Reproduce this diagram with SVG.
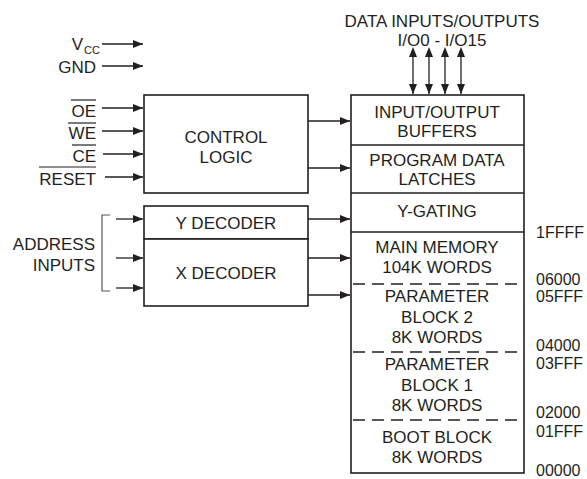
<svg xmlns="http://www.w3.org/2000/svg" width="587" height="479" viewBox="0 0 587 479">
<style>
  text { font-family: "Liberation Sans", Arial, sans-serif; font-size: 17px; fill: #231f20; }
  .num { font-size: 16px; }
  .sub { font-size: 11px; }
  .c { text-anchor: middle; }
  .e { text-anchor: end; }
  .box { fill: #ffffff; stroke: #231f20; stroke-width: 1.6; }
  .div { stroke: #231f20; stroke-width: 1.4; fill: none; }
  .dash { stroke: #231f20; stroke-width: 1.4; fill: none; stroke-dasharray: 12 7; }
  .wire { stroke: #231f20; stroke-width: 1.3; fill: none; }
  .ol { stroke: #231f20; stroke-width: 1.2; }
  .brk { stroke: #555555; stroke-width: 1.2; fill: none; }
</style>
<defs>
  <marker id="ah" viewBox="0 0 10 8" refX="10" refY="4" markerWidth="10" markerHeight="8" markerUnits="userSpaceOnUse" orient="auto">
    <path d="M0,0 L10,4 L0,8 z" fill="#231f20"/>
  </marker>
  <marker id="ahs" viewBox="0 0 10 8" refX="0" refY="4" markerWidth="10" markerHeight="8" markerUnits="userSpaceOnUse" orient="auto-start-reverse">
    <path d="M0,0 L10,4 L0,8 z" fill="#231f20"/>
  </marker>
</defs>

<!-- Left input labels -->
<g id="labels">
  <text x="83" y="50" class="e">V</text>
  <text x="84" y="54" class="sub">CC</text>
  <text x="96" y="73" class="e">GND</text>
  <text x="96" y="117" class="e">OE</text>
  <line x1="71" y1="100" x2="96" y2="100" class="ol"/>
  <text x="96" y="139" class="e">WE</text>
  <line x1="68" y1="123" x2="96" y2="123" class="ol"/>
  <text x="96" y="162" class="e">CE</text>
  <line x1="72" y1="145" x2="96" y2="145" class="ol"/>
  <text x="96" y="185" class="e">RESET</text>
  <line x1="39" y1="167" x2="96" y2="167" class="ol"/>
  <text x="95" y="250" class="e">ADDRESS</text>
  <text x="95" y="271" class="e">INPUTS</text>
  <text x="442" y="27" class="c">DATA INPUTS/OUTPUTS</text>
  <text x="442" y="46" class="c">I/O0 - I/O15</text>
</g>

<g id="control-logic">
  <rect x="144" y="95" width="164" height="98" class="box"/>
  <text x="226" y="143" class="c">CONTROL</text>
  <text x="226" y="163" class="c">LOGIC</text>
</g>

<g id="y-decoder">
  <rect x="144" y="206" width="164" height="33" class="box"/>
  <text x="226" y="229" class="c">Y DECODER</text>
</g>

<g id="x-decoder">
  <rect x="144" y="239" width="164" height="67" class="box"/>
  <text x="226" y="279" class="c">X DECODER</text>
</g>

<g id="memory-array">
  <rect x="351" y="95" width="173" height="378" class="box"/>
  <line x1="351" y1="145" x2="524" y2="145" class="div"/>
  <line x1="351" y1="193" x2="524" y2="193" class="div"/>
  <line x1="351" y1="232" x2="524" y2="232" class="div"/>
  <line x1="353" y1="284" x2="524" y2="284" class="dash"/>
  <line x1="353" y1="352" x2="524" y2="352" class="dash"/>
  <line x1="353" y1="420" x2="524" y2="420" class="dash"/>
</g>

<g id="io-buffers">
  <text x="437" y="118" class="c">INPUT/OUTPUT</text>
  <text x="437" y="137" class="c">BUFFERS</text>
</g>
<g id="program-data-latches">
  <text x="437" y="166" class="c">PROGRAM DATA</text>
  <text x="437" y="185" class="c">LATCHES</text>
</g>
<g id="y-gating">
  <text x="437" y="217" class="c">Y-GATING</text>
</g>
<g id="main-memory">
  <text x="437" y="253" class="c">MAIN MEMORY</text>
  <text x="437" y="273" class="c">104K WORDS</text>
</g>
<g id="parameter-block-2">
  <text x="437" y="302" class="c">PARAMETER</text>
  <text x="437" y="323" class="c">BLOCK 2</text>
  <text x="437" y="343" class="c">8K WORDS</text>
</g>
<g id="parameter-block-1">
  <text x="437" y="370" class="c">PARAMETER</text>
  <text x="437" y="391" class="c">BLOCK 1</text>
  <text x="437" y="411" class="c">8K WORDS</text>
</g>
<g id="boot-block">
  <text x="437" y="443" class="c">BOOT BLOCK</text>
  <text x="437" y="463" class="c">8K WORDS</text>
</g>

<g id="addresses">
  <text x="536" y="238" class="num">1FFFF</text>
  <text x="536" y="285" class="num">06000</text>
  <text x="536" y="302" class="num">05FFF</text>
  <text x="536" y="351" class="num">04000</text>
  <text x="536" y="369" class="num">03FFF</text>
  <text x="536" y="418" class="num">02000</text>
  <text x="536" y="437" class="num">01FFF</text>
  <text x="536" y="476" class="num">00000</text>
</g>

<g id="connectors">
  <line x1="102" y1="44" x2="143" y2="44" class="wire" marker-end="url(#ah)"/>
  <line x1="102" y1="66" x2="143" y2="66" class="wire" marker-end="url(#ah)"/>
  <line x1="102" y1="108" x2="143" y2="108" class="wire" marker-end="url(#ah)"/>
  <line x1="102" y1="131" x2="143" y2="131" class="wire" marker-end="url(#ah)"/>
  <line x1="103" y1="154" x2="143" y2="154" class="wire" marker-end="url(#ah)"/>
  <line x1="105" y1="177" x2="143" y2="177" class="wire" marker-end="url(#ah)"/>
  <path d="M110,215 H102 V291 H110" class="brk"/>
  <line x1="116" y1="219" x2="143" y2="219" class="wire" marker-end="url(#ah)"/>
  <line x1="116" y1="258" x2="143" y2="258" class="wire" marker-end="url(#ah)"/>
  <line x1="116" y1="288" x2="143" y2="288" class="wire" marker-end="url(#ah)"/>
  <line x1="308" y1="121" x2="350" y2="121" class="wire" marker-end="url(#ah)"/>
  <line x1="308" y1="168" x2="350" y2="168" class="wire" marker-end="url(#ah)"/>
  <line x1="308" y1="219" x2="350" y2="219" class="wire" marker-end="url(#ah)"/>
  <line x1="308" y1="258" x2="350" y2="258" class="wire" marker-end="url(#ah)"/>
  <line x1="308" y1="295" x2="350" y2="295" class="wire" marker-end="url(#ah)"/>
  <line x1="413" y1="57" x2="413" y2="94" class="wire" marker-start="url(#ahs)" marker-end="url(#ah)"/>
  <line x1="429" y1="57" x2="429" y2="94" class="wire" marker-start="url(#ahs)" marker-end="url(#ah)"/>
  <line x1="445" y1="57" x2="445" y2="94" class="wire" marker-start="url(#ahs)" marker-end="url(#ah)"/>
  <line x1="461" y1="57" x2="461" y2="94" class="wire" marker-start="url(#ahs)" marker-end="url(#ah)"/>
</g>
</svg>
